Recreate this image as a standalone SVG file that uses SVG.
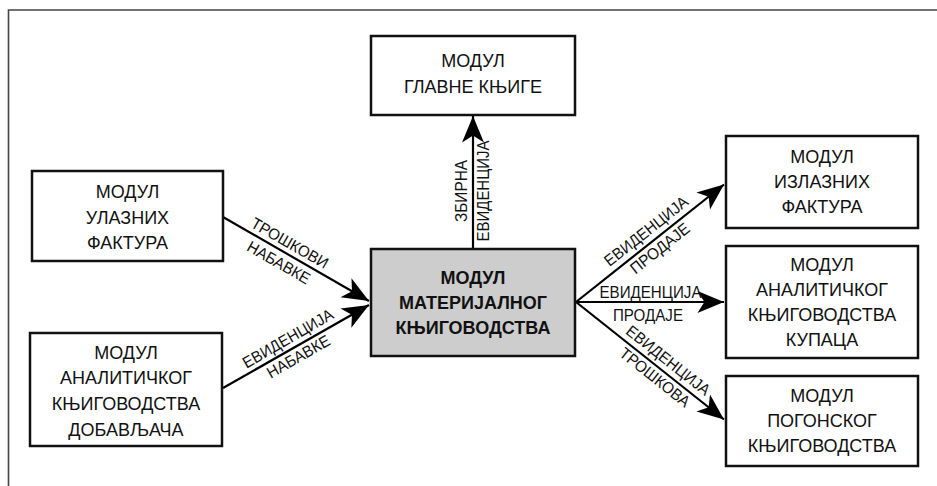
<svg xmlns="http://www.w3.org/2000/svg" width="937" height="486" viewBox="0 0 937 486">
<style>
.box{fill:#fff;stroke:#111;stroke-width:2.5}
.main{fill:#cdcdcd;stroke:#111;stroke-width:2.5}
.t{font-family:"Liberation Sans",Arial,sans-serif;font-size:18px;fill:#111;text-anchor:middle}
.b{font-weight:bold}
.lbl{font-family:"Liberation Sans",Arial,sans-serif;font-size:16px;fill:#111;text-anchor:middle}
.ln{stroke:#000;stroke-width:2.2;fill:none;marker-end:url(#ah)}
</style>
<defs>
<marker id="ah" markerUnits="userSpaceOnUse" markerWidth="30" markerHeight="30" viewBox="-24 -12 26 24" refX="0" refY="0" orient="auto">
<path d="M0,0 L-23,-9.5 L-17,0 L-23,9.5 Z" fill="#000"/>
</marker>
</defs>
<rect width="937" height="486" fill="#fff"/>
<g id="frame" stroke="#444" stroke-width="1.6" fill="none">
<path d="M8.5,486 V10 H937"/>
</g>
<g id="connectors">
<line class="ln" x1="473" y1="249" x2="473" y2="116"/>
<line class="ln" x1="223" y1="217" x2="369" y2="301"/>
<line class="ln" x1="223" y1="388" x2="369" y2="305"/>
<line class="ln" x1="576" y1="302" x2="724" y2="184.5"/>
<line class="ln" x1="576" y1="302" x2="724" y2="302"/>
<line class="ln" x1="576" y1="302" x2="724" y2="419.5"/>
<g transform="translate(473,191) rotate(-90)">
<text class="lbl" x="0" y="-6" textLength="62" lengthAdjust="spacingAndGlyphs">ЗБИРНА</text>
<text class="lbl" x="0" y="15.5" textLength="101" lengthAdjust="spacingAndGlyphs">ЕВИДЕНЦИЈА</text>
</g>
<g transform="translate(284.7,252.2) rotate(29.7)">
<text class="lbl" x="0" y="-5" textLength="86" lengthAdjust="spacingAndGlyphs">ТРОШКОВИ</text>
<text class="lbl" x="0" y="17.5" textLength="70" lengthAdjust="spacingAndGlyphs">НАБАВКЕ</text>
</g>
<g transform="translate(293.1,347.5) rotate(-30)">
<text class="lbl" x="0" y="-5" textLength="102" lengthAdjust="spacingAndGlyphs">ЕВИДЕНЦИЈА</text>
<text class="lbl" x="0" y="16" textLength="70" lengthAdjust="spacingAndGlyphs">НАБАВКЕ</text>
</g>
<g transform="translate(653.6,240.5) rotate(-38.4)">
<text class="lbl" x="0" y="-6.5" textLength="102" lengthAdjust="spacingAndGlyphs">ЕВИДЕНЦИЈА</text>
<text class="lbl" x="0" y="15.5" textLength="71" lengthAdjust="spacingAndGlyphs">ПРОДАЈЕ</text>
</g>
<text class="lbl" x="650.5" y="298" textLength="102" lengthAdjust="spacingAndGlyphs">ЕВИДЕНЦИЈА</text>
<text class="lbl" x="648" y="320.5" textLength="70" lengthAdjust="spacingAndGlyphs">ПРОДАЈЕ</text>
<g transform="translate(661.1,369.4) rotate(38.4)">
<text class="lbl" x="0" y="-6" textLength="102" lengthAdjust="spacingAndGlyphs">ЕВИДЕНЦИЈА</text>
<text class="lbl" x="0" y="15.5" textLength="85" lengthAdjust="spacingAndGlyphs">ТРОШКОВА</text>
</g>
</g>
<g id="glavna">
<rect class="box" x="371" y="36" width="204" height="79"/>
<text class="t" x="473" y="67">МОДУЛ</text>
<text class="t" x="473" y="93">ГЛАВНЕ КЊИГЕ</text>
</g>
<g id="materijalno">
<rect class="main" x="371" y="249" width="204" height="107"/>
<text class="t b" x="473" y="284">МОДУЛ</text>
<text class="t b" x="473" y="309">МАТЕРИЈАЛНОГ</text>
<text class="t b" x="473" y="334">КЊИГОВОДСТВА</text>
</g>
<g id="ulazne">
<rect class="box" x="32" y="171" width="191" height="90"/>
<text class="t" x="127.5" y="198">МОДУЛ</text>
<text class="t" x="127.5" y="224">УЛАЗНИХ</text>
<text class="t" x="127.5" y="249">ФАКТУРА</text>
</g>
<g id="dobavljaci">
<rect class="box" x="30" y="333" width="192" height="113"/>
<text class="t" x="126" y="359">МОДУЛ</text>
<text class="t" x="126" y="384">АНАЛИТИЧКОГ</text>
<text class="t" x="126" y="410">КЊИГОВОДСТВА</text>
<text class="t" x="126" y="436">ДОБАВЉАЧА</text>
</g>
<g id="izlazne">
<rect class="box" x="726" y="136" width="192" height="92"/>
<text class="t" x="822" y="163">МОДУЛ</text>
<text class="t" x="822" y="188">ИЗЛАЗНИХ</text>
<text class="t" x="822" y="213">ФАКТУРА</text>
</g>
<g id="kupci">
<rect class="box" x="726" y="246" width="192" height="112"/>
<text class="t" x="822" y="271">МОДУЛ</text>
<text class="t" x="822" y="296">АНАЛИТИЧКОГ</text>
<text class="t" x="822" y="321">КЊИГОВОДСТВА</text>
<text class="t" x="822" y="346">КУПАЦА</text>
</g>
<g id="pogonsko">
<rect class="box" x="726" y="376" width="192" height="90"/>
<text class="t" x="822" y="402">МОДУЛ</text>
<text class="t" x="822" y="427">ПОГОНСКОГ</text>
<text class="t" x="822" y="452">КЊИГОВОДСТВА</text>
</g>
</svg>
